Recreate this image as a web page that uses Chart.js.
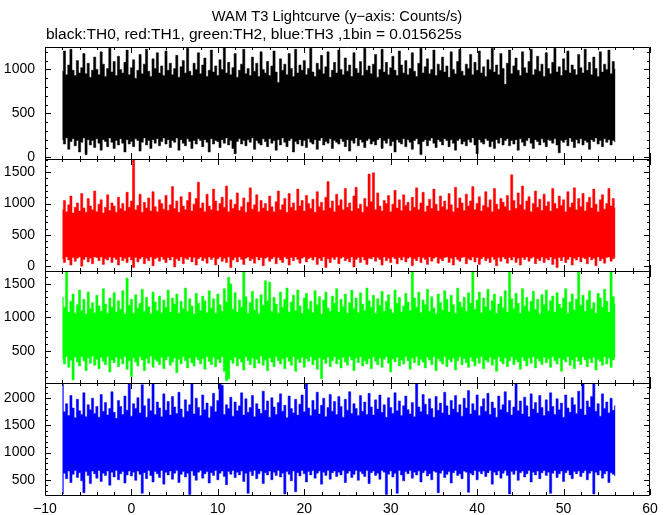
<!DOCTYPE html>
<html>
<head>
<meta charset="utf-8">
<script src="https://cdn.jsdelivr.net/npm/chart.js@4/dist/chart.umd.min.js"></script>
<style>
  html, body { margin: 0; padding: 0; background: #fff; }
  canvas { display: block; }
</style>
</head>
<body>
<canvas id="lc-chart" width="672" height="515"></canvas>
<script>
'use strict';

// Light curve envelopes, one step per 0.25 s: upper / lower extent (counts/s)
const T_START = -8;
const T_END = 56;

const th0Hi = [
  980, 1210, 940, 1050, 1230, 990, 930, 1100, 960, 1020, 1180, 950, 1070, 910, 990, 1140,
  1000, 940, 1200, 1060, 920, 1010, 1240, 970, 1090, 930, 1150, 1000, 960, 1080, 1220, 940,
  1020, 1110, 900, 990, 1170, 950, 1060, 1230, 980, 920, 1120, 1010, 1190, 960, 1040, 930,
  1210, 990, 1070, 940, 1010, 1160, 910, 1030, 1100, 960, 1240, 980, 930, 1070, 1000, 1190,
  950, 1050, 1130, 920, 990, 1220, 970, 1040, 930, 1110, 1000, 1250, 960, 1080, 940, 1020,
  1180, 910, 990, 1060, 1230, 950, 1010, 930, 1140, 980, 1070, 920, 1200, 1000, 960, 1090,
  930, 1040, 1210, 970, 850, 1120, 990, 1060, 940, 1180, 1010, 920, 1230, 960, 1050, 990,
  1100, 940, 1010, 1240, 970, 920, 1070, 1000, 1160, 950, 1030, 1200, 910, 990, 1080, 960,
  1220, 1000, 940, 1130, 980, 1050, 920, 1190, 1010, 960, 1090, 930, 1240, 990, 1040, 950,
  1060, 1170, 910, 1000, 1230, 970, 1080, 940, 1020, 1150, 990, 930, 1210, 1050, 960, 1100,
  940, 1010, 1190, 980, 920, 1070, 1240, 960, 1030, 1120, 950, 1000, 1220, 930, 1060, 990,
  1140, 970, 1040, 910, 1200, 1000, 950, 1090, 1230, 980, 930, 1060, 1010, 1170, 940, 1080,
  990, 1210, 960, 1030, 920, 1110, 1000, 1240, 970, 1050, 940, 1180, 1010, 830, 1070, 1220,
  950, 1040, 1130, 990, 930, 1200, 1020, 960, 1090, 1230, 940, 1000, 1150, 980, 1060, 920,
  1190, 1010, 950, 1080, 1240, 970, 1030, 930, 1120, 990, 1210, 960, 1050, 1000, 940, 1170,
  1020, 960, 1230, 990, 1080, 940, 1140, 1010, 920, 1200, 970, 1060, 1000, 1220, 950, 1090,
  1000
];
const th0Lo = [
  200, 150, 220, 90, 180, 210, 130, 190, 60, 170, 220, 30, 200, 140, 190, 110,
  210, 160, 80, 200, 180, 120, 220, 170, 100, 190, 140, 210, 160, 60, 200, 150,
  180, 120, 210, 190, 70, 170, 220, 140, 190, 100, 200, 160, 210, 130, 180, 220,
  150, 200, 110, 190, 170, 220, 80, 200, 160, 130, 210, 180, 100, 190, 150, 210,
  190, 120, 200, 170, 60, 210, 150, 190, 180, 110, 200, 160, 220, 140, 190, 100,
  40, 180, 210, 150, 190, 130, 200, 170, 220, 90, 190, 160, 140, 210, 180, 120,
  210, 160, 190, 80, 200, 140, 220, 170, 120, 190, 210, 60, 180, 150, 200, 130,
  190, 110, 210, 170, 150, 200, 90, 190, 220, 140, 180, 160, 210, 100, 190, 170,
  150, 210, 180, 120, 200, 70, 190, 160, 220, 130, 200, 170, 110, 190, 210, 150,
  180, 140, 200, 220, 100, 190, 160, 210, 130, 180, 60, 200, 170, 150, 210, 120,
  200, 170, 90, 190, 210, 150, 30, 180, 200, 130, 190, 220, 160, 110, 200, 180,
  140, 210, 190, 120, 200, 160, 80, 190, 210, 150, 180, 130, 200, 170, 220, 140,
  40, 200, 170, 150, 210, 190, 120, 180, 100, 200, 160, 220, 140, 190, 210, 130,
  190, 150, 200, 80, 210, 170, 130, 190, 220, 160, 100, 200, 180, 140, 210, 170,
  120, 200, 190, 160, 210, 140, 50, 190, 170, 200, 130, 220, 180, 110, 200, 160,
  210, 140, 190, 170, 90, 200, 180, 220, 150, 190, 120, 210, 170, 200, 140, 190,
  180
];

const th1Hi = [
  900, 1050, 870, 980, 1120, 850, 940, 1010, 880, 1160, 930, 860, 1080, 960, 900, 1200,
  870, 990, 1060, 850, 940, 1140, 890, 1010, 960, 860, 1100, 920, 1000, 880, 1180, 940,
  1040, 1720, 900, 970, 1150, 860, 1020, 930, 1090, 880, 1190, 950, 870, 1060, 1000, 910,
  1130, 890, 980, 1270, 920, 1040, 860, 1110, 960, 900, 1050, 1180, 880, 990, 1080, 1340,
  930, 1010, 870, 1150, 960, 900, 1230, 1040, 880, 1000, 1100, 940, 1280, 870, 1060, 920,
  990, 1170, 890, 950, 1090, 860, 1020, 1250, 910, 980, 1140, 870, 1050, 930, 1000, 880,
  1120, 950, 870, 1030, 1200, 900, 980, 1080, 860, 1160, 940, 1010, 890, 1230, 960, 1050,
  880, 1130, 1000, 920, 1070, 860, 1190, 950, 1020, 890, 1100, 1350, 930, 1040, 870, 1150,
  970, 1060, 900, 1240, 940, 1010, 880, 1120, 1260, 920, 990, 860, 1080, 950, 1470, 1030,
  1490, 900, 1170, 960, 880, 1050, 1000, 1130, 870, 990, 1210, 930, 1060, 890, 1140, 970,
  1020, 880, 1100, 940, 1250, 900, 1010, 1180, 870, 960, 1070, 920, 1230, 990, 880, 1120,
  950, 1040, 900, 1160, 980, 870, 1260, 930, 1090, 1010, 890, 1150, 960, 1040, 1270, 900,
  1000, 1110, 880, 970, 1190, 940, 1060, 870, 1240, 990, 910, 1080, 1020, 950, 1130, 890,
  1460, 1050, 920, 1170, 980, 1280, 900, 1040, 1110, 870, 1000, 1200, 940, 1070, 890, 1150,
  960, 1030, 880, 1240, 1000, 920, 1120, 970, 1060, 870, 1190, 940, 1010, 1250, 900, 1080,
  950, 1160, 880, 1020, 1100, 930, 1230, 990, 870, 1060, 1140, 910, 1000, 1240, 960, 1080,
  930
];
const th1Lo = [
  120, 60, 150, 100, 20, 140, 80, 130, 150, 0, 110, 150, 70, 130, 40, 150,
  140, 90, 150, 30, 120, 100, 150, 60, 140, 110, 20, 150, 90, 130, 60, 150,
  100, -20, 140, 70, 120, 150, 40, 130, 90, 150, 10, 120, 140, 80, 150, 110,
  60, 140, 100, 150, -10, 120, 90, 150, 40, 130, 110, 150, 70, 140, 20, 120,
  150, 90, 130, 50, 150, 110, 140, 20, 120, 150, 80, 130, 60, 150, -20, 100,
  140, 70, 150, 110, 30, 130, 150, 90, 120, 50, 150, 100, 140, 10, 130, 150,
  80, 120, 150, 40, 140, 100, 60, 150, 120, 20, 140, 90, 150, 110, 50, 130,
  150, 70, 120, 140, 100, 150, 30, 130, 90, 150, -20, 120, 60, 140, 110, 150,
  40, 130, 150, 90, 120, 70, 150, -10, 110, 140, 60, 150, 100, 30, 130, 120,
  150, 80, 140, 110, 20, 150, 90, 130, 60, 150, 120, 40, 140, 100, 150, 70,
  130, 150, 10, 120, 90, 150, 60, 140, 110, 30, 150, 80, 130, 150, 50, 120,
  90, 140, 150, 60, 130, 20, 150, 110, 80, 140, 150, 40, 120, 100, 150, 70,
  140, 30, 120, 150, 90, 130, 60, 150, 110, 10, 140, 80, 150, 120, 50, 140,
  100, 150, 60, 130, 20, 140, 110, 150, 80, 130, 150, 40, 120, 90, 150, 60,
  130, 100, 150, 30, 120, -20, 140, 90, 150, 60, 110, 150, 20, 130, 100, 150,
  70, 140, 120, 40, 150, 100, 130, 10, 150, 90, 120, 50, 140, 150, 80, 120,
  140
];

const th2Hi = [
  1300, 1150, 1700, 1080, 1240, 1350, 1060, 1190, 1410, 1100, 1270, 1050, 1380, 1130, 1220, 1070,
  1330, 1170, 1090, 1430, 1200, 1060, 1290, 1150, 1370, 1080, 1250, 1120, 1400, 1050, 1590, 1180,
  1270, 1060, 1340, 1140, 1210, 1420, 1090, 1300, 1160, 1050, 1380, 1230, 1100, 1320, 1070, 1260,
  1150, 1410, 1080, 1290, 1200, 1350, 1060, 1240, 1130, 1440, 1090, 1280, 1170, 1050, 1360, 1210,
  1100, 1320, 1250, 1070, 1400, 1140, 1280, 1060, 1350, 1190, 1090, 1430, 1230, 1600, 1500, 1120,
  1370, 1080, 1260, 1150, 1700, 1310, 1060, 1220, 1390, 1110, 1280, 1050, 1340, 1180, 1550, 1250,
  1530, 1090, 1300, 1200, 1060, 1380, 1150, 1270, 1440, 1080, 1230, 1330, 1100, 1410, 1170, 1060,
  1290, 1360, 1120, 1240, 1070, 1400, 1190, 1310, 1050, 1260, 1380, 1140, 1090, 1320, 1210, 1430,
  1080, 1270, 1160, 1350, 1060, 1220, 1410, 1130, 1290, 1070, 1370, 1200, 1100, 1440, 1250, 1150,
  1330, 1060, 1280, 1180, 1390, 1090, 1240, 1340, 1120, 1060, 1410, 1210, 1300, 1080, 1170, 1360,
  1230, 1100, 1700, 1290, 1150, 1380, 1070, 1260, 1190, 1420, 1090, 1310, 1140, 1050, 1350, 1220,
  1110, 1400, 1270, 1080, 1330, 1190, 1060, 1440, 1230, 1150, 1300, 1090, 1370, 1210, 1700, 1120,
  1260, 1380, 1070, 1290, 1160, 1420, 1100, 1250, 1350, 1060, 1200, 1310, 1140, 1400, 1080, 1700,
  1280, 1130, 1360, 1210, 1060, 1430, 1170, 1300, 1090, 1240, 1390, 1120, 1270, 1050, 1340, 1190,
  1410, 1100, 1250, 1320, 1080, 1370, 1200, 1140, 1290, 1430, 1060, 1230, 1350, 1110, 1270, 1700,
  1180, 1330, 1090, 1260, 1400, 1130, 1220, 1060, 1360, 1290, 1150, 1420, 1240, 1080, 1680, 1310,
  1200
];
const th2Lo = [
  380, 300, 410, 250, 360, 60, 400, 330, 270, 410, 350, 200, 390, 310, 420, 280,
  370, 230, 400, 340, 290, 410, 180, 360, 320, 400, 260, 380, 300, 410, 220, 350,
  110, 390, 330, 270, 410, 360, 200, 380, 310, 420, 250, 370, 340, 290, 400, 230,
  360, 410, 280, 330, 390, 170, 370, 300, 410, 350, 240, 390, 320, 270, 400, 360,
  300, 380, 220, 410, 340, 290, 400, 260, 370, 320, 410, 190, 50, 80, 360, 310,
  400, 270, 380, 330, 210, 410, 350, 290, 390, 240, 370, 310, 420, 280, 360, 200,
  390, 330, 260, 410, 350, 300, 380, 230, 400, 340, 280, 410, 190, 370, 320, 400,
  250, 380, 340, 410, 290, 360, 220, 390, 80, 370, 310, 400, 260, 350, 410, 300,
  370, 240, 400, 330, 280, 410, 360, 200, 390, 320, 410, 270, 350, 300, 380, 230,
  410, 340, 290, 390, 250, 370, 410, 310, 180, 380, 330, 400, 270, 360, 300, 410,
  350, 220, 390, 320, 410, 280, 370, 330, 240, 400, 360, 290, 410, 200, 380, 340,
  300, 410, 260, 370, 330, 390, 210, 350, 410, 290, 380, 320, 250, 400, 340, 270,
  390, 310, 410, 230, 360, 330, 400, 280, 370, 190, 410, 340, 300, 390, 260, 350,
  410, 290, 370, 330, 220, 400, 350, 270, 390, 310, 410, 240, 380, 340, 290, 400,
  320, 380, 250, 410, 350, 300, 390, 190, 370, 330, 410, 280, 360, 230, 400, 340,
  290, 410, 360, 260, 380, 320, 400, 210, 370, 340, 280, 410, 300, 390, 250, 360,
  400
];

const th3Hi = [
  2270, 1750, 1900, 1680, 2050, 1820, 1640, 1980, 1770, 1700, 2100, 1660, 1880, 1790, 2000, 1720,
  1850, 1650, 2070, 1760, 1920, 1690, 1810, 2120, 1740, 1630, 1960, 1850, 1700, 2040, 1780, 2260,
  1670, 1900, 1810, 2010, 1730, 2250, 1860, 1650, 1990, 1770, 2270, 1700, 1930, 1820, 1660, 2080,
  1780, 1940, 1690, 2030, 1840, 1720, 2110, 1800, 1650, 1970, 1760, 1880, 2260, 1710, 2000, 1830,
  1680, 2060, 1790, 1910, 1640, 1850, 2090, 1750, 1960, 2270, 2240, 1700, 1880, 1810, 2020, 1670,
  1930, 1770, 1860, 2100, 1690, 1990, 1740, 1830, 2050, 1660, 1900, 1800, 1720, 2130, 1780, 1950,
  1650, 2010, 1840, 1700, 1920, 2080, 1760, 1870, 1640, 2040, 1810, 1730, 1980, 1690, 1890, 2060,
  1750, 2260, 1820, 1680, 1960, 1790, 2110, 1710, 1870, 2000, 1660, 1830, 2070, 1760, 1940, 1700,
  2030, 1850, 1650, 1980, 1780, 2120, 1720, 1900, 1810, 1680, 2050, 1760, 1930, 1700, 2090, 1840,
  1690, 1970, 1800, 2060, 1740, 1880, 1650, 2010, 1830, 1720, 2100, 1770, 1950, 1680, 1860, 2040,
  1790, 1710, 1920, 1660, 2270, 1840, 1750, 2070, 1890, 1700, 1990, 1810, 1650, 2030, 1780, 1910,
  1730, 2110, 1860, 1690, 1960, 1800, 2050, 1740, 1880, 1670, 2000, 1820, 2140, 1710, 1900, 1780,
  2060, 1680, 1850, 1990, 1760, 2090, 1700, 1930, 1820, 1650, 2040, 1790, 1880, 2120, 1740, 1960,
  1690, 1840, 2270, 1770, 1950, 1710, 2020, 1860, 1660, 2080, 1800, 1920, 1730, 2050, 1830, 1680,
  1970, 1760, 2100, 1850, 1700, 1990, 1790, 1910, 1650, 2060, 1820, 1740, 2010, 1880, 1720, 2130,
  1800, 2260, 1690, 1950, 1840, 2030, 2270, 1760, 1900, 1670, 2080, 1810, 1930, 1730, 2000, 1780,
  1860
];
const th3Lo = [
  240, 620, 520, 660, 450, 600, 670, 540, 630, 480, 260, 650, 580, 430, 660, 610,
  530, 670, 470, 620, 580, 660, 400, 640, 550, 670, 500, 610, 650, 440, 590, 660,
  570, 640, 490, 660, 600, 250, 630, 520, 670, 580, 460, 650, 610, 540, 670, 420,
  640, 590, 660, 510, 620, 670, 450, 600, 650, 550, 620, 230, 660, 580, 490, 640,
  670, 530, 610, 650, 440, 630, 580, 670, 500, 620, 660, 560, 410, 650, 600, 670,
  540, 640, 590, 660, 470, 620, 250, 650, 580, 670, 520, 610, 660, 430, 630, 590,
  660, 500, 640, 580, 670, 550, 620, 240, 650, 600, 480, 660, 280, 630, 570, 670,
  610, 460, 650, 590, 670, 530, 620, 660, 420, 640, 580, 670, 510, 630, 660, 560,
  640, 590, 670, 450, 620, 660, 540, 600, 670, 490, 650, 610, 560, 670, 430, 630,
  660, 580, 620, 510, 670, 640, 230, 600, 660, 550, 620, 250, 670, 590, 480, 650,
  610, 670, 530, 640, 590, 660, 460, 630, 670, 570, 610, 500, 660, 640, 260, 620,
  670, 540, 600, 650, 440, 630, 670, 580, 610, 520, 660, 640, 270, 620, 590, 670,
  500, 650, 610, 660, 560, 630, 670, 420, 640, 590, 660, 530, 620, 670, 580, 240,
  650, 600, 670, 490, 630, 660, 550, 610, 670, 460, 640, 590, 660, 520, 630, 670,
  580, 640, 250, 620, 670, 540, 610, 660, 470, 630, 670, 590, 520, 650, 610, 660,
  560, 630, 670, 500, 620, 660, 240, 640, 590, 670, 530, 610, 660, 450, 630, 600,
  580
];

// y-axis tick labels of each panel
const th0Ticks = [0, 500, 1000];
const th1Ticks = [0, 500, 1000, 1500];
const th2Ticks = [500, 1000, 1500];
const th3Ticks = [500, 1000, 1500, 2000];

const panels = [
  { id: 'y1', hi: th0Hi, lo: th0Lo, ticks: th0Ticks, color: '#000000', min: -20, max: 1255 },
  { id: 'y2', hi: th1Hi, lo: th1Lo, ticks: th1Ticks, color: '#ff0000', min: -75, max: 1710 },
  { id: 'y3', hi: th2Hi, lo: th2Lo, ticks: th2Ticks, color: '#00ff00', min: 15, max: 1695 },
  { id: 'y4', hi: th3Hi, lo: th3Lo, ticks: th3Ticks, color: '#0000ff', min: 220, max: 2280 }
];

const TITLE = 'WAM T3 Lightcurve (y\u2212axis: Counts/s)';
const SUBTITLE = 'black:TH0, red:TH1, green:TH2, blue:TH3 ,1bin = 0.015625s';

function toPoints(values) {
    var step = (T_END - T_START) / (values.length - 1);
    return values.map(function (v, i) {
        return { x: T_START + i * step, y: v };
    });
}

var datasets = [];
panels.forEach(function (p) {
    // upper envelope, filled down to the lower one
    datasets.push({
        data: toPoints(p.hi),
        yAxisID: p.id,
        borderColor: p.color,
        backgroundColor: p.color,
        stepped: 'middle',
        fill: '+1'
    });
    datasets.push({
        data: toPoints(p.lo),
        yAxisID: p.id,
        borderColor: p.color,
        backgroundColor: p.color,
        stepped: 'middle',
        fill: false
    });
});

Chart.defaults.font.family = '"Liberation Sans", Arial, sans-serif';
Chart.defaults.font.size = 14;
Chart.defaults.color = '#000';

var scales = {
    x: {
        type: 'linear',
        min: -10,
        max: 60,
        grid: { display: false },
        border: { display: false },
        ticks: {
            stepSize: 10,
            padding: -2,
            maxRotation: 0,
            callback: function (v) { return String(v).replace('-', '\u2212'); }
        },
        afterFit: function (s) { s.height = 20; }
    }
};
// y scales stacked on the left, one per panel (higher weight = placed higher)
panels.forEach(function (p, i) {
    scales[p.id] = {
        type: 'linear',
        position: 'left',
        stack: 'lc',
        stackWeight: 1,
        weight: panels.length - i,
        min: p.min,
        max: p.max,
        grid: { display: false },
        border: { display: false },
        ticks: {
            padding: 2,
            autoSkip: false,
            callback: function (v) { return String(v); }
        },
        afterBuildTicks: function (s) {
            s.ticks = p.ticks.map(function (v) { return { value: v }; });
        },
        afterFit: function (s) { s.width = 45; }
    };
});

// frame with inward ticks on all four sides of every panel
const framePlugin = {
    id: 'panelFrame',
    afterDatasetsDraw: function (chart) {
        var ctx = chart.ctx;
        var xs = chart.scales.x;
        var left = chart.chartArea.left, right = chart.chartArea.right;
        ctx.save();
        ctx.strokeStyle = '#000';
        ctx.lineWidth = 1;
        panels.forEach(function (p) {
            var ys = chart.scales[p.id];
            var top = Math.round(ys.top), bottom = Math.round(ys.bottom);
            ctx.beginPath();
            ctx.rect(left + 0.5, top + 0.5, right - left - 1, bottom - top);
            for (var t = -10; t <= 60; t += 2) {
                var px = Math.round(xs.getPixelForValue(t)) + 0.5;
                var len = (t % 10 === 0) ? 6 : 3;
                ctx.moveTo(px, top); ctx.lineTo(px, top + len);
                ctx.moveTo(px, bottom); ctx.lineTo(px, bottom - len);
            }
            var v0 = Math.ceil(p.min / 100) * 100;
            for (var v = v0; v <= p.max; v += 100) {
                var py = Math.round(ys.getPixelForValue(v)) + 0.5;
                var l = (v % 500 === 0) ? 6 : 3;
                ctx.moveTo(left, py); ctx.lineTo(left + l, py);
                ctx.moveTo(right, py); ctx.lineTo(right - l, py);
            }
            ctx.stroke();
        });
        ctx.restore();
    }
};

const textPlugin = {
    id: 'headText',
    afterDraw: function (chart) {
        var ctx = chart.ctx;
        ctx.save();
        ctx.fillStyle = '#000';
        ctx.textBaseline = 'middle';
        ctx.font = '14.7px "Liberation Sans", Arial, sans-serif';
        ctx.textAlign = 'center';
        ctx.fillText(TITLE, 337, 17);
        ctx.font = '15.5px "Liberation Sans", Arial, sans-serif';
        ctx.textAlign = 'left';
        ctx.fillText(SUBTITLE, 46, 35);
        ctx.restore();
    }
};

var lcChart = new Chart(document.getElementById('lc-chart'), {
    type: 'line',
    data: { datasets: datasets },
    options: {
        responsive: false,
        animation: false,
        layout: { padding: { top: 47, right: 22, left: 0, bottom: 0 } },
        elements: {
            point: { radius: 0 },
            line: { borderWidth: 0.5, tension: 0 }
        },
        plugins: {
            legend: { display: false },
            tooltip: { enabled: false },
            title: { display: false }
        },
        scales: scales
    },
    plugins: [framePlugin, textPlugin]
});
</script>
</body>
</html>
